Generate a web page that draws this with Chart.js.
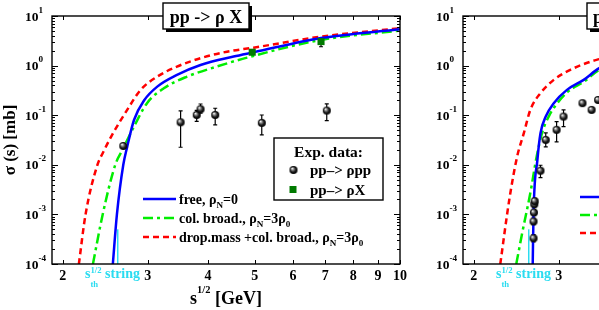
<!DOCTYPE html>
<html>
<head>
<meta charset="utf-8">
<script src="https://cdn.jsdelivr.net/npm/chart.js@4.4.1/dist/chart.umd.min.js"></script>
<style>
html, body { margin: 0; padding: 0; background: #fff; overflow: hidden; }
#wrap { position: relative; width: 599px; height: 310px; overflow: hidden; }
#c1 { position: absolute; left: 0; top: 0; }
#c2 { position: absolute; left: 411px; top: 0; }
</style>
</head>
<body>
<div id="wrap">
  <canvas id="c1" width="411" height="310"></canvas>
  <canvas id="c2" width="411" height="310"></canvas>
</div>
<script>
const FONT = '"Liberation Serif", "Times New Roman", serif';

// axes
const xTicks = [2, 3, 4, 5, 6, 7, 8, 9, 10];
const yDecades = [1e-4, 1e-3, 1e-2, 1e-1, 1, 10];
const yExponents = ['-4', '-3', '-2', '-1', '0', '1'];

// string threshold marker
const stringX = [2.6, 2.6];
const stringY = [1e-4, 5e-4];

// left panel: pp -> rho X
const leftFreeX = [2.54, 2.59, 2.67, 2.72, 2.81, 2.95, 3.14, 3.45, 3.86, 4.52, 4.97, 6.86, 10];
const leftFreeY = [1e-4, 1e-3, 1e-2, 0.023, 0.08, 0.2, 0.377, 0.65, 1.03, 1.52, 1.85, 3.6, 5.4];
const leftBroadX = [2.31, 2.42, 2.57, 2.66, 2.81, 2.99, 3.24, 3.62, 4.17, 4.82, 6.86, 10];
const leftBroadY = [1e-4, 1e-3, 1e-2, 0.02, 0.059, 0.175, 0.35, 0.6, 0.955, 1.45, 3.3, 5.08];
const leftDropX = [2.16, 2.23, 2.36, 2.42, 2.52, 2.72, 2.90, 3.14, 3.45, 3.86, 4.38, 4.97, 6.86, 10];
const leftDropY = [1e-4, 1e-3, 1e-2, 0.0171, 0.037, 0.128, 0.324, 0.60, 0.955, 1.41, 1.91, 2.3, 3.84, 5.67];

const leftPppX = [2.67, 3.51, 3.79, 3.86, 4.14, 5.17, 7.05];
const leftPppY = [0.024, 0.072, 0.101, 0.132, 0.101, 0.07, 0.124];
const leftPppLo = [0.024, 0.0226, 0.075, 0.11, 0.064, 0.040, 0.078];
const leftPppHi = [0.024, 0.122, 0.125, 0.168, 0.138, 0.101, 0.169];

const leftIncX = [4.94, 6.86];
const leftIncY = [1.86, 3.05];
const leftIncLo = [1.86, 2.4];
const leftIncHi = [1.86, 3.6];

// right panel (cut off by the picture edge)
const rightFreeX = [2.65, 2.66, 2.71, 2.75, 2.82, 2.93, 3.12, 3.38, 3.64, 4.5, 6, 10];
const rightFreeY = [1e-4, 1e-3, 0.0126, 0.0434, 0.0937, 0.175, 0.324, 0.515, 0.886, 1.9, 3.2, 5.5];
const rightBroadX = [2.45, 2.52, 2.62, 2.70, 2.77, 2.86, 2.96, 3.13, 3.38, 3.64, 4.5, 6, 10];
const rightBroadY = [1e-4, 4.2e-4, 2.7e-3, 0.0146, 0.0434, 0.0937, 0.16, 0.295, 0.47, 0.82, 1.75, 3.0, 5.2];
const rightDropX = [2.27, 2.37, 2.46, 2.54, 2.62, 2.75, 2.93, 3.17, 3.49, 3.64, 4.5, 6, 10];
const rightDropY = [1e-4, 2e-3, 0.0146, 0.0434, 0.128, 0.278, 0.515, 0.82, 1.2, 1.35, 2.4, 3.6, 6.0];

const rightPppX = [2.66, 2.66, 2.665, 2.67, 2.675, 2.75, 2.82, 2.97, 3.07, 3.36, 3.51, 3.62];
const rightPppY = [3.3e-4, 7.2e-4, 1.09e-3, 1.6e-3, 1.85e-3, 7.6e-3, 0.0318, 0.0506, 0.0937, 0.175, 0.128, 0.203];
const rightPppLo = [2.8e-4, 6.2e-4, 0.95e-3, 1.4e-3, 1.65e-3, 5.5e-3, 0.023, 0.029, 0.059, 0.16, 0.115, 0.185];
const rightPppHi = [3.9e-4, 8.4e-4, 1.25e-3, 1.8e-3, 2.1e-3, 9.8e-3, 0.044, 0.074, 0.128, 0.19, 0.14, 0.22];

const BLUE = '#0000ff', GREEN = '#00ee00', RED = '#ff0000', CYAN = '#2adcf0', DKGREEN = '#007a00';
const DASH_BROAD = [10, 4, 3, 4];
const DASH_DROP = [6, 4];

const pts = (xs, ys) => xs.map((x, i) => ({ x: x, y: ys[i] }));

function makeSphere(r) {
  const c = document.createElement('canvas');
  c.width = c.height = 2 * r + 2;
  const g = c.getContext('2d');
  const cx = r + 1;
  const grad = g.createRadialGradient(cx - r * 0.35, cx - r * 0.4, 0.2, cx, cx, r);
  grad.addColorStop(0, '#ffffff');
  grad.addColorStop(0.3, '#8a8a8a');
  grad.addColorStop(0.65, '#1a1a1a');
  grad.addColorStop(1, '#000000');
  g.fillStyle = grad;
  g.beginPath();
  g.arc(cx, cx, r, 0, Math.PI * 2);
  g.fill();
  return c;
}
const sphere = makeSphere(4);

function curve(xs, ys, color, dash) {
  return {
    data: pts(xs, ys), showLine: true, borderColor: color, borderWidth: 2.5,
    borderDash: dash || [], pointRadius: 0, cubicInterpolationMode: 'monotone', fill: false
  };
}

// parts: [text, dy, scale, noAdvance]
function drawRich(ctx, x, y, parts, size, color, align) {
  ctx.save();
  ctx.fillStyle = color;
  ctx.textBaseline = 'alphabetic';
  ctx.textAlign = 'left';
  let w = 0;
  parts.forEach(p => {
    ctx.font = 'bold ' + (size * (p[2] || 1)) + 'px ' + FONT;
    if (!p[3]) w += ctx.measureText(p[0]).width;
  });
  if (align === 'center') x -= w / 2;
  parts.forEach(p => {
    ctx.font = 'bold ' + (size * (p[2] || 1)) + 'px ' + FONT;
    ctx.fillText(p[0], x, y + (p[1] || 0));
    if (!p[3]) x += ctx.measureText(p[0]).width;
  });
  ctx.restore();
}

const rhoN = (rest) => [[', ρ'], ['N', 4, 0.65], ['=' + rest]];
const legendTexts = [
  [['free'], ...rhoN('0')],
  [['col. broad.'], ...rhoN('3ρ'), ['0', 4, 0.65]],
  [['drop.mass +col. broad.'], ...rhoN('3ρ'), ['0', 4, 0.65]]
];

function makeDeco(cfg) {
  return {
    id: 'deco',
    beforeDatasetsDraw(chart) {
      const ctx = chart.ctx, a = chart.chartArea, ys = chart.scales.y;
      ctx.save();
      ctx.beginPath();
      ctx.rect(a.left, a.top, a.right - a.left, a.bottom - a.top);
      ctx.clip();
      ctx.strokeStyle = '#000';
      ctx.lineWidth = 1.2;
      cfg.errors.forEach(e => {
        const meta = chart.getDatasetMeta(e.ds);
        e.lo.forEach((lo, j) => {
          if (lo === e.hi[j]) return;
          const px = meta.data[j].x;
          const y1 = ys.getPixelForValue(lo), y2 = ys.getPixelForValue(e.hi[j]);
          ctx.beginPath();
          ctx.moveTo(px, y1); ctx.lineTo(px, y2);
          ctx.moveTo(px - 2, y1); ctx.lineTo(px + 2, y1);
          ctx.moveTo(px - 2, y2); ctx.lineTo(px + 2, y2);
          ctx.stroke();
        });
      });
      ctx.restore();
    },
    afterDraw(chart) {
      const ctx = chart.ctx, a = chart.chartArea;
      const xs = chart.scales.x, ys = chart.scales.y;
      ctx.save();
      ctx.strokeStyle = '#000';
      ctx.lineWidth = 1;
      // ticks inside the frame
      ctx.beginPath();
      xTicks.forEach(v => {
        const px = Math.round(xs.getPixelForValue(v)) + 0.5;
        ctx.moveTo(px, a.bottom); ctx.lineTo(px, a.bottom - 4);
        ctx.moveTo(px, a.top); ctx.lineTo(px, a.top + 4);
      });
      yDecades.forEach((d, i) => {
        for (let k = 1; k <= 9; k++) {
          if (i === yDecades.length - 1 && k > 1) break;
          const py = Math.round(ys.getPixelForValue(d * k)) + 0.5;
          const len = k === 1 ? 6 : 3;
          ctx.moveTo(a.left, py); ctx.lineTo(a.left + len, py);
          ctx.moveTo(a.right, py); ctx.lineTo(a.right - len, py);
        }
      });
      ctx.stroke();
      ctx.lineWidth = 1.4;
      ctx.strokeRect(a.left, a.top, a.right - a.left, a.bottom - a.top);

      // y tick labels 10^n
      yDecades.forEach((d, i) => {
        const py = ys.getPixelForValue(d);
        drawRich(ctx, 25, py + 4.5, [['10'], [yExponents[i], -8, 0.68]], 13.5, '#000');
      });

      // axis titles
      if (cfg.yTitle) {
        ctx.save();
        ctx.translate(15, 140);
        ctx.rotate(-Math.PI / 2);
        drawRich(ctx, 0, 0, [['σ (s) [mb]']], 17, '#000', 'center');
        ctx.restore();
      }
      drawRich(ctx, cfg.xTitleX, 304, [['s'], ['1/2', -11, 0.58], [' [GeV]']], 18, '#000', 'center');
      drawRich(ctx, 85, 278, [['s'], ['th', 9, 0.62, true], ['1/2', -5, 0.62], [' string']], 14, CYAN);

      // curve legend
      const lc = [[BLUE, []], [GREEN, DASH_BROAD], [RED, DASH_DROP]];
      lc.forEach((l, i) => {
        const y = cfg.legY[i];
        ctx.save();
        ctx.strokeStyle = l[0];
        ctx.lineWidth = 2.5;
        ctx.setLineDash(l[1]);
        ctx.beginPath();
        ctx.moveTo(cfg.legX, y); ctx.lineTo(cfg.legX + 33, y);
        ctx.stroke();
        ctx.restore();
        drawRich(ctx, cfg.legX + 36, y + 5, legendTexts[i], 14, '#000');
      });

      // experimental data box
      if (cfg.exp) {
        const b = cfg.exp;
        ctx.fillStyle = '#fff';
        ctx.fillRect(b.x1, b.y1, b.x2 - b.x1, b.y2 - b.y1);
        ctx.lineWidth = 1.4;
        ctx.strokeStyle = '#000';
        ctx.strokeRect(b.x1, b.y1, b.x2 - b.x1, b.y2 - b.y1);
        drawRich(ctx, (b.x1 + b.x2) / 2, b.y1 + 19, [['Exp. data:']], 15.5, '#000', 'center');
        ctx.drawImage(sphere, b.x1 + 14.5, b.y1 + 27);
        drawRich(ctx, b.x1 + 36, b.y1 + 37, [['pp–> ρpp']], 15, '#000');
        ctx.fillStyle = DKGREEN;
        ctx.fillRect(b.x1 + 15.5, b.y1 + 48, 7, 7);
        drawRich(ctx, b.x1 + 36, b.y1 + 57, [['pp–> ρX']], 15, '#000');
      }

      // title box with shadow
      const t = cfg.title;
      ctx.fillStyle = '#000';
      ctx.fillRect(t.x1 + 3, t.y1 + 3, t.x2 - t.x1, t.y2 - t.y1);
      ctx.fillStyle = '#fff';
      ctx.fillRect(t.x1, t.y1, t.x2 - t.x1, t.y2 - t.y1);
      ctx.lineWidth = 1.4;
      ctx.strokeRect(t.x1, t.y1, t.x2 - t.x1, t.y2 - t.y1);
      drawRich(ctx, (t.x1 + t.x2) / 2, t.y1 + 20, [[t.text]], 18, '#000', 'center');
      ctx.restore();
    }
  };
}

function makeChart(id, datasets, deco) {
  return new Chart(document.getElementById(id), {
    type: 'scatter',
    data: { datasets: datasets },
    options: {
      responsive: false,
      animation: false,
      devicePixelRatio: 1,
      layout: { padding: { top: 16, right: 11, left: 0, bottom: 0 } },
      plugins: { legend: { display: false }, tooltip: { enabled: false } },
      scales: {
        x: {
          type: 'logarithmic', min: 1.9, max: 10,
          grid: { display: false, drawTicks: false },
          border: { display: false },
          afterBuildTicks: s => { s.ticks = xTicks.map(v => ({ value: v })); },
          afterFit: s => { s.height = 46; },
          ticks: {
            autoSkip: false, maxRotation: 0, padding: 4, color: '#000',
            font: { family: FONT, size: 14, weight: 'bold' },
            callback: v => String(v)
          }
        },
        y: {
          type: 'logarithmic', min: 1e-4, max: 10,
          grid: { display: false, drawTicks: false },
          border: { display: false },
          ticks: { display: false },
          afterFit: s => { s.width = 52; }
        }
      }
    },
    plugins: [deco]
  });
}

function panelData(pX, pY, incX, incY, free, broad, drop) {
  const ds = [
    { data: pts(pX, pY), pointStyle: sphere, pointRadius: 4, showLine: false }
  ];
  if (incX) {
    ds.push({ data: pts(incX, incY), pointStyle: 'rect', pointRadius: 5, backgroundColor: DKGREEN, borderColor: DKGREEN, borderWidth: 0, showLine: false });
  }
  ds.push(curve(free[0], free[1], BLUE));
  ds.push(curve(drop[0], drop[1], RED, DASH_DROP));
  ds.push(curve(broad[0], broad[1], GREEN, DASH_BROAD));
  ds.push({ data: pts(stringX, stringY), showLine: true, borderColor: CYAN, borderWidth: 1.5, pointRadius: 0 });
  return ds;
}

makeChart('c1',
  panelData(leftPppX, leftPppY, leftIncX, leftIncY,
    [leftFreeX, leftFreeY], [leftBroadX, leftBroadY], [leftDropX, leftDropY]),
  makeDeco({
    yTitle: true, xTitleX: 226,
    legX: 143, legY: [199, 218, 237],
    exp: { x1: 274, y1: 138, x2: 383, y2: 200 },
    title: { text: 'pp -> ρ X', x1: 163, y1: 3, x2: 249, y2: 29 },
    errors: [{ ds: 0, lo: leftPppLo, hi: leftPppHi }, { ds: 1, lo: leftIncLo, hi: leftIncHi }]
  }));

makeChart('c2',
  panelData(rightPppX, rightPppY, null, null,
    [rightFreeX, rightFreeY], [rightBroadX, rightBroadY], [rightDropX, rightDropY]),
  makeDeco({
    yTitle: false, xTitleX: 226,
    legX: 169, legY: [197, 215, 233],
    exp: null,
    title: { text: 'pp -> ω X', x1: 176, y1: 3, x2: 264, y2: 29 },
    errors: [{ ds: 0, lo: rightPppLo, hi: rightPppHi }]
  }));
</script>
</body>
</html>
